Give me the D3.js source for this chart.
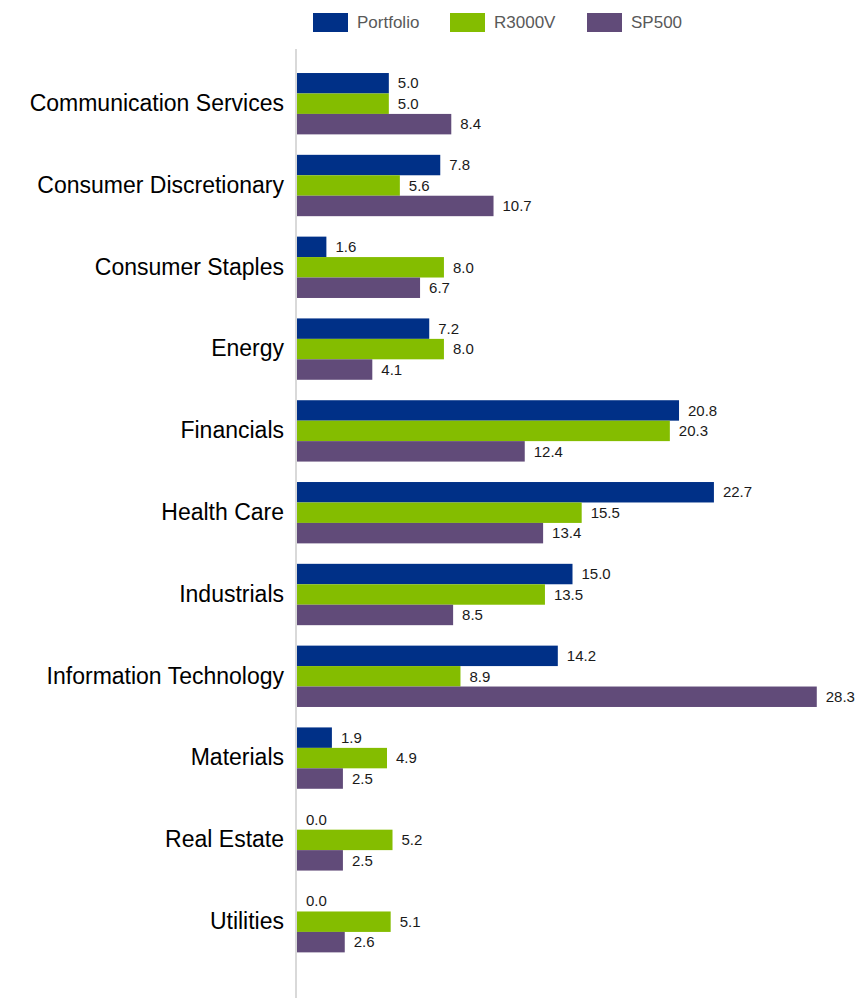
<!DOCTYPE html>
<html>
<head>
<meta charset="utf-8">
<script src="https://cdn.jsdelivr.net/npm/d3@7"></script>
<style>
  body { margin: 0; background: #fff; }
  svg { display: block; font-family: "Liberation Sans", Arial, sans-serif; }
</style>
</head>
<body>
<div id="chart"></div>
<script>
// sector weights (%)
var sectors = ["Communication Services", "Consumer Discretionary", "Consumer Staples", "Energy",
  "Financials", "Health Care", "Industrials", "Information Technology", "Materials",
  "Real Estate", "Utilities"];
var seriesNames = ["Portfolio", "R3000V", "SP500"];
var portfolio = [5.0, 7.8, 1.6, 7.2, 20.8, 22.7, 15.0, 14.2, 1.9, 0.0, 0.0];
var r3000v = [5.0, 5.6, 8.0, 8.0, 20.3, 15.5, 13.5, 8.9, 4.9, 5.2, 5.1];
var sp500 = [8.4, 10.7, 6.7, 4.1, 12.4, 13.4, 8.5, 28.3, 2.5, 2.5, 2.6];
var colors = ["#003087", "#84bd00", "#614b79"];

var svgWidth = 859;
var svgHeight = 998;

var svg = d3.select("#chart")
  .append("svg")
  .attr("width", svgWidth)
  .attr("height", svgHeight);

// build rows from the arrays
var rows = sectors.map(function(s, i) {
  return { sector: s, values: [portfolio[i], r3000v[i], sp500[i]] };
});

var x = d3.scaleLinear()
  .domain([0, 30])
  .range([297, 848]);

var y = d3.scaleBand()
  .domain(sectors)
  .range([62.8, 962.6])
  .paddingInner(0.25)
  .paddingOuter(0.125);

var ySub = d3.scaleBand()
  .domain(seriesNames)
  .range([0, y.bandwidth()]);

// legend
var legendX = [313, 450, 587];
var legend = svg.append("g");
seriesNames.forEach(function(name, i) {
  legend.append("rect")
    .attr("x", legendX[i])
    .attr("y", 13)
    .attr("width", 35)
    .attr("height", 19)
    .style("fill", colors[i]);
  legend.append("text")
    .attr("x", legendX[i] + 44)
    .attr("y", 22.5)
    .attr("dy", "0.35em")
    .style("font-size", "17px")
    .style("fill", "#595959")
    .text(name);
});

// vertical axis line
svg.append("line")
  .attr("x1", 296).attr("x2", 296)
  .attr("y1", 49).attr("y2", svgHeight)
  .style("stroke", "#d9d9d9")
  .style("stroke-width", 2);

// category labels
var leftAxis = d3.axisLeft(y).tickSize(0).tickPadding(0);
var axisG = svg.append("g")
  .attr("transform", "translate(284, 0)")
  .call(leftAxis);
axisG.select(".domain").remove();
axisG.selectAll("text")
  .style("font-size", "23px")
  .style("font-family", "'Liberation Sans', Arial, sans-serif")
  .style("fill", "#000");

// bars
var groups = svg.append("g")
  .selectAll("g")
  .data(rows)
  .enter()
  .append("g")
  .attr("transform", d => `translate(0, ${y(d.sector)})`);

groups.selectAll("rect")
  .data(d => d.values.map((v, i) => ({ key: seriesNames[i], value: v, i: i })))
  .enter()
  .append("rect")
  .attr("x", x(0))
  .attr("y", d => ySub(d.key))
  .attr("width", d => x(d.value) - x(0))
  .attr("height", ySub.bandwidth())
  .style("fill", d => colors[d.i]);

groups.selectAll("text")
  .data(d => d.values.map((v, i) => ({ key: seriesNames[i], value: v })))
  .enter()
  .append("text")
  .attr("x", d => x(d.value) + 9)
  .attr("y", d => ySub(d.key) + ySub.bandwidth() / 2)
  .attr("dy", "0.35em")
  .style("font-size", "15px")
  .style("fill", "#1a1a1a")
  .text(d => d.value.toFixed(1));
</script>
</body>
</html>
